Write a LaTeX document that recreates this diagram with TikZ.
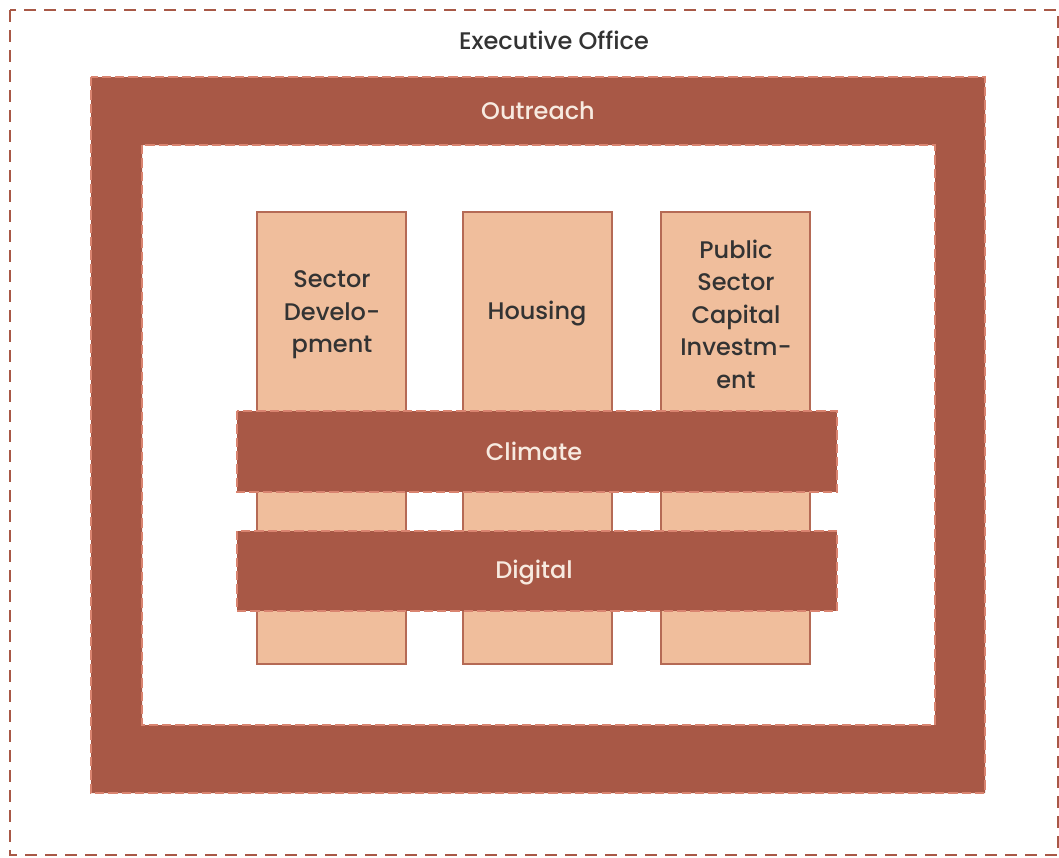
\documentclass[tikz,border=0pt]{standalone}
\usepackage{fontspec}
\setmainfont{Poppins}[UprightFont=* Medium]
\begin{document}
\begin{tikzpicture}[x=0.75pt,y=-0.75pt,
  dashframe/.style={draw=brick, dash pattern=on 9pt off 6pt, line width=2pt},
  bandline/.style={draw=bandedge, dash pattern=on 7pt off 3pt, line width=1.5pt},
  band/.style={fill=brick, bandline},
  col/.style={fill=peach, draw=colline, line width=0.9pt},
  coltext/.style={text=darktext, font=\fontsize{18}{24.4}\selectfont, align=center},
  bandtext/.style={text=lighttext, font=\fontsize{18}{22}\selectfont}
]
\definecolor{brick}{HTML}{A85846}
\definecolor{bandedge}{HTML}{D98470}
\definecolor{peach}{HTML}{F0BE9C}
\definecolor{colline}{HTML}{B56A55}
\definecolor{darktext}{HTML}{333333}
\definecolor{lighttext}{HTML}{F7EAE0}
\useasboundingbox (0,0) rectangle (1059,857);
\fill[white] (0,0) rectangle (1059,857);
% Executive office frame
\draw[dashframe] (10,10) rectangle (1058,855);
\node[text=darktext, font=\fontsize{18}{22}\selectfont] (exec) at (554,40) {Executive Office};
% Outreach frame
\fill[brick, even odd rule] (91,77) rectangle (985,793) (142,145) rectangle (935,725);
\draw[bandline] (91,77) rectangle (985,793);
\draw[bandline] (142,145) rectangle (935,725);
\node[bandtext] (outreach) at (538,111) {Outreach};
% Columns
\path[col] (257,212) rectangle (406,664);
\path[col] (463,212) rectangle (612,664);
\path[col] (661,212) rectangle (810,664);
\node[coltext] (sector) at (332,315) {Sector\\Develo-\\pment};
\node[coltext] (housing) at (537,314) {Housing};
\node[coltext] (public) at (736,314) {Public\\Sector\\Capital\\Investm-\\ent};
% Bands
\path[band] (237,411) rectangle (837,492);
\path[band] (237,531) rectangle (837,611);
\node[bandtext] (climate) at (534,451) {Climate};
\node[bandtext] (digital) at (534,573) {Digital};
\end{tikzpicture}
\end{document}
